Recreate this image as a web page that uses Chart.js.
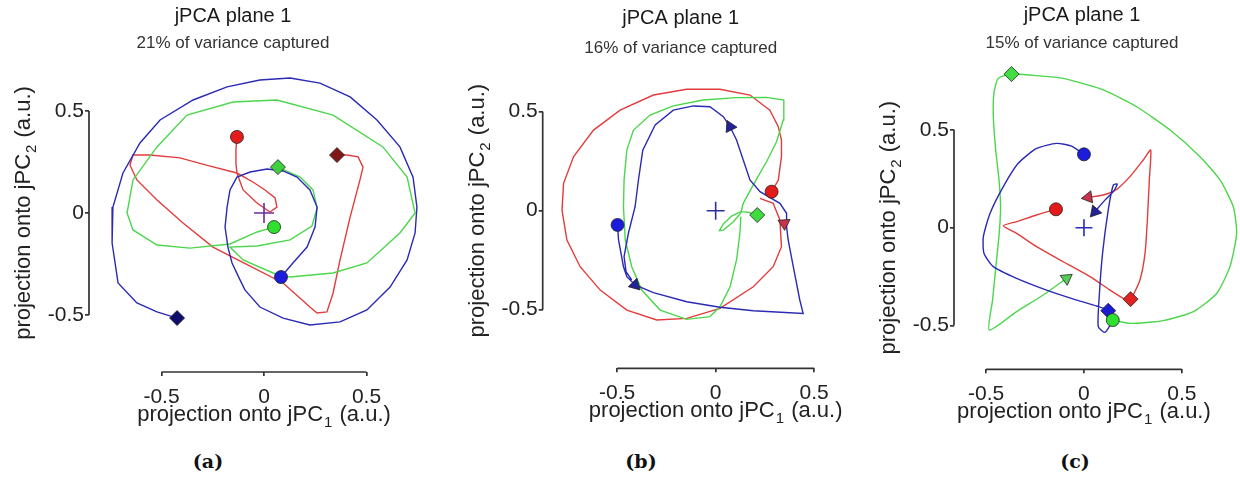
<!DOCTYPE html>
<html>
<head>
<meta charset="utf-8">
<script src="https://cdn.jsdelivr.net/npm/chart.js@4.4.1/dist/chart.umd.min.js"></script>
<style>
  html, body { margin:0; padding:0; background:#fff; overflow:hidden; }
  body { width:1240px; height:481px; position:relative; }
  canvas { position:absolute; top:0; }
  .cap { position:absolute; top:450px; line-height:24px; font:bold 19px "DejaVu Serif", serif; color:#111; transform:translateX(-50%); }
</style>
</head>
<body>
<canvas id="pa" width="430" height="440" style="left:0"></canvas>
<canvas id="pb" width="440" height="440" style="left:440px"></canvas>
<canvas id="pc" width="380" height="440" style="left:860px"></canvas>
<div class="cap" style="left:208px">(a)</div>
<div class="cap" style="left:641px">(b)</div>
<div class="cap" style="left:1075px">(c)</div>
<script>
// ===== DONNÉES =====
const tickVals = [-0.5, 0, 0.5];
const variance = ['21%', '16%', '15%'];
const origin = [0, 0];

// panneau (a) : rouge / vert / bleu, points [jPC1, jPC2]
const aRed = [[-0.132,0.373],[-0.137,0.309],[-0.137,0.245],[-0.132,0.196],[-0.102,0.113],[-0.034,0.049],[0.029,0.005],[0.063,0.029],[0.054,0.074],[0.005,0.113],[-0.054,0.152],[-0.132,0.196],[-0.263,0.230],[-0.410,0.270],[-0.556,0.284],[-0.639,0.284],[-0.654,0.235],[-0.620,0.162],[-0.522,0.064],[-0.395,-0.049],[-0.249,-0.167],[-0.068,-0.260],[0.093,-0.343],[0.224,-0.461],[0.259,-0.490],[0.307,-0.485],[0.337,-0.392],[0.371,-0.230],[0.420,-0.020],[0.468,0.162],[0.483,0.225],[0.459,0.275],[0.405,0.284],[0.356,0.284]];
const aGreen = [[0.049,-0.069],[-0.034,-0.093],[-0.166,-0.152],[-0.361,-0.172],[-0.522,-0.157],[-0.639,-0.083],[-0.668,0],[-0.639,0.162],[-0.522,0.324],[-0.376,0.480],[-0.151,0.544],[0.063,0.554],[0.337,0.480],[0.580,0.324],[0.698,0.176],[0.737,0],[0.663,-0.098],[0.502,-0.245],[0.337,-0.294],[0.127,-0.314],[0.044,-0.294],[-0.102,-0.230],[-0.166,-0.167],[-0.034,-0.162],[0.127,-0.132],[0.234,-0.064],[0.259,0.025],[0.239,0.113],[0.176,0.176],[0.068,0.225]];
const aBlue = [[0.083,-0.314],[0.141,-0.245],[0.210,-0.167],[0.249,-0.069],[0.259,0.029],[0.224,0.113],[0.161,0.176],[0.093,0.206],[0.015,0.216],[-0.068,0.201],[-0.132,0.176],[-0.166,0.113],[-0.180,0.029],[-0.190,-0.069],[-0.176,-0.167],[-0.156,-0.245],[-0.117,-0.328],[-0.093,-0.377],[-0.020,-0.461],[0.093,-0.515],[0.224,-0.549],[0.371,-0.534],[0.502,-0.475],[0.615,-0.363],[0.698,-0.230],[0.737,-0.098],[0.746,0.029],[0.727,0.176],[0.663,0.324],[0.551,0.456],[0.420,0.569],[0.273,0.637],[0.127,0.662],[-0.020,0.652],[-0.180,0.618],[-0.346,0.554],[-0.507,0.456],[-0.605,0.343],[-0.688,0.196],[-0.737,0.029],[-0.741,-0.147],[-0.712,-0.343],[-0.620,-0.441],[-0.522,-0.485],[-0.424,-0.515]];
const aCircles = [[-0.132,0.373],[0.049,-0.069],[0.083,-0.314]];
const aDiamonds = [[0.356,0.284],[0.068,0.225],[-0.424,-0.515]];

// panneau (b)
const bRed = [[0.225,0.062],[0.292,0.037],[0.326,-0.047],[0.334,-0.182],[0.292,-0.283],[0.191,-0.384],[0.022,-0.493],[-0.147,-0.544],[-0.299,-0.552],[-0.451,-0.502],[-0.586,-0.401],[-0.688,-0.283],[-0.755,-0.148],[-0.780,0.003],[-0.772,0.138],[-0.721,0.273],[-0.620,0.407],[-0.485,0.508],[-0.316,0.584],[-0.147,0.613],[0.022,0.613],[0.174,0.584],[0.275,0.508],[0.318,0.424],[0.334,0.357],[0.334,0.273],[0.318,0.155],[0.284,0.096]];
const bGreen = [[0.211,-0.022],[0.166,-0.008],[0.127,-0.005],[0.081,-0.027],[0.039,-0.067],[0.019,-0.101],[0.039,-0.098],[0.090,-0.056],[0.127,-0.013],[0.140,0.037],[0.191,0.130],[0.258,0.247],[0.309,0.348],[0.343,0.458],[0.346,0.559],[0.258,0.572],[0.106,0.571],[-0.063,0.559],[-0.215,0.529],[-0.333,0.483],[-0.417,0.407],[-0.451,0.306],[-0.465,0.155],[-0.468,0.020],[-0.459,-0.148],[-0.426,-0.283],[-0.375,-0.401],[-0.282,-0.502],[-0.147,-0.549],[-0.029,-0.535],[0.022,-0.485],[0.073,-0.384],[0.106,-0.249],[0.123,-0.114],[0.128,-0.030]];
const bBlue = [[-0.498,-0.072],[-0.493,-0.148],[-0.468,-0.283],[-0.451,-0.333],[-0.409,-0.375],[-0.316,-0.414],[-0.147,-0.460],[0.022,-0.488],[0.191,-0.505],[0.444,-0.519],[0.427,-0.451],[0.394,-0.283],[0.368,-0.148],[0.360,-0.081],[0.360,-0.013],[0.326,0.037],[0.225,0.096],[0.174,0.155],[0.140,0.256],[0.106,0.357],[0.073,0.424],[0.039,0.475],[-0.029,0.525],[-0.113,0.529],[-0.215,0.508],[-0.307,0.433],[-0.370,0.306],[-0.392,0.155],[-0.409,0.020],[-0.443,-0.114],[-0.465,-0.232],[-0.455,-0.308],[-0.426,-0.350]];
const bCircles = [[0.284,0.096], null, [-0.498,-0.072]];
const bDiamonds = [null, [0.211,-0.022], null];
const bArrowsRed = [[0.348,-0.064]];
const bArrowsBlue = [[0.073,0.424],[-0.409,-0.375]];

// panneau (c)
const cRed = [[-0.143,0.094],[-0.242,0.065],[-0.344,0.031],[-0.412,0.010],[-0.344,-0.029],[-0.242,-0.097],[-0.106,-0.174],[0.031,-0.250],[0.133,-0.319],[0.201,-0.361],[0.238,-0.365],[0.286,-0.267],[0.312,-0.131],[0.324,0.039],[0.334,0.244],[0.341,0.397],[0.303,0.346],[0.235,0.261],[0.167,0.196],[0.099,0.167],[0.022,0.155]];
const cGreen = [[0.147,-0.472],[0.235,-0.489],[0.405,-0.475],[0.559,-0.429],[0.678,-0.336],[0.746,-0.199],[0.780,-0.029],[0.763,0.107],[0.695,0.244],[0.593,0.363],[0.440,0.499],[0.269,0.618],[0.099,0.704],[-0.106,0.763],[-0.276,0.780],[-0.370,0.785],[-0.438,0.763],[-0.460,0.687],[-0.463,0.567],[-0.451,0.397],[-0.434,0.244],[-0.426,0.107],[-0.433,-0.029],[-0.450,-0.199],[-0.467,-0.370],[-0.484,-0.523],[-0.344,-0.429],[-0.208,-0.344],[-0.089,-0.259]];
const cBlue = [[0,0.375],[-0.063,0.417],[-0.140,0.431],[-0.242,0.405],[-0.336,0.329],[-0.412,0.210],[-0.480,0.073],[-0.514,-0.046],[-0.511,-0.131],[-0.463,-0.199],[-0.344,-0.259],[-0.191,-0.319],[-0.037,-0.370],[0.065,-0.400],[0.124,-0.424],[0.141,-0.480],[0.107,-0.535],[0.073,-0.506],[0.078,-0.353],[0.095,-0.131],[0.124,0.090],[0.150,0.218],[0.170,0.223],[0.150,0.184],[0.107,0.141],[0.056,0.082]];
const cCircles = [[-0.143,0.094],[0.147,-0.472],[0,0.375]];
const cDiamonds = [[0.238,-0.365],[-0.370,0.785],[0.124,-0.424]];
const cArrowsRed = [[0.022,0.155]];
const cArrowsGreen = [[-0.089,-0.259]];
const cArrowsBlue = [[0.056,0.082]];

// ===== STYLE =====
const lineCol = ['#e23c3c', '#4cd64c', '#2a2ab4'];
const circleCol = ['#e31b1b', '#2fe02f', '#1c1cdc'];
const arrowCol = ['#c8324a', '#55cc55', '#22229a'];
const FONT = '"Liberation Sans", Arial, sans-serif';

const toPts = arr => arr.map(p => ({x:p[0], y:p[1]}));

// direction (degrés, sens horaire depuis le haut) du segment le plus proche
function headingAt(path, p) {
  let best = 0, bd = Infinity;
  for (let i = 0; i < path.length-1; i++) {
    const [x1,y1] = path[i], [x2,y2] = path[i+1];
    const dx = x2-x1, dy = y2-y1, L = dx*dx+dy*dy || 1;
    let t = ((p[0]-x1)*dx + (p[1]-y1)*dy)/L; t = Math.max(0, Math.min(1, t));
    const d = Math.hypot(x1+t*dx-p[0], y1+t*dy-p[1]);
    if (d < bd) { bd = d; best = i; }
  }
  const [x1,y1] = path[best], [x2,y2] = path[best+1];
  return Math.atan2(x2-x1, y2-y1)*180/Math.PI;
}

function drawAxisLabel(ctx, cx, by, sub) {
  const main = 'projection onto jPC', tail = ' (a.u.)';
  ctx.font = '22px ' + FONT;
  const w1 = ctx.measureText(main).width, w3 = ctx.measureText(tail).width;
  ctx.font = '15px ' + FONT;
  const w2 = ctx.measureText(sub).width + 2;
  let x0 = cx - (w1+w2+w3)/2;
  ctx.fillStyle = '#222'; ctx.textBaseline = 'alphabetic'; ctx.textAlign = 'left';
  ctx.font = '22px ' + FONT; ctx.fillText(main, x0, by);
  ctx.font = '15px ' + FONT; ctx.fillText(sub, x0 + w1 + 1, by + 6);
  ctx.font = '22px ' + FONT; ctx.fillText(tail, x0 + w1 + w2, by);
}

// axes décalés façon MATLAB : trait de -0.5 à 0.5 seulement
const decor = {
  id: 'decor',
  afterDraw(chart) {
    const {ctx, chartArea, scales: {x, y}} = chart;
    ctx.save();
    ctx.strokeStyle = '#333'; ctx.lineWidth = 1.7;
    ctx.beginPath();
    ctx.moveTo(x.getPixelForValue(tickVals[0]), chartArea.bottom);
    ctx.lineTo(x.getPixelForValue(tickVals[2]), chartArea.bottom);
    ctx.moveTo(chartArea.left, y.getPixelForValue(tickVals[0]));
    ctx.lineTo(chartArea.left, y.getPixelForValue(tickVals[2]));
    ctx.stroke();
    drawAxisLabel(ctx, x.getPixelForValue(0), chartArea.bottom + 48.5, '1');
    ctx.translate(chartArea.left - 59, y.getPixelForValue(0));
    ctx.rotate(-Math.PI/2);
    drawAxisLabel(ctx, 0, 0, '2');
    ctx.restore();
  }
};

function makePanel(id, p) {
  const paths = [p.red, p.green, p.blue];
  const ds = [];
  // croix au centre
  ds.push({ data:[{x:origin[0], y:origin[1]}], pointStyle:'cross', pointRadius:p.crossSize, borderColor:p.crossCol, borderWidth:1.6, showLine:false, order:0 });
  // cercles, losanges, flèches
  paths.forEach((path, k) => {
    if (p.circles[k]) ds.push({ data:toPts([p.circles[k]]), pointStyle:'circle', pointRadius:6.5, backgroundColor:circleCol[k], borderColor:'#222', borderWidth:0.8, showLine:false, order:0 });
    if (p.diamonds[k]) ds.push({ data:toPts([p.diamonds[k]]), pointStyle:'rectRot', pointRadius:7.5, backgroundColor:p.diamondCol[k], borderColor:'#222', borderWidth:0.8, showLine:false, order:0 });
    const arr = p.arrows[k] || [];
    if (arr.length) ds.push({ data:toPts(arr), pointStyle:'triangle', pointRadius:7,
      pointRotation: arr.map(a => headingAt(path, a)),
      backgroundColor:arrowCol[k], borderColor:'#222', borderWidth:0.8, showLine:false, order:0 });
  });
  paths.forEach((path, k) => {
    ds.push({ data:toPts(path), showLine:true, borderColor:lineCol[k], borderWidth:1.4, pointRadius:0, tension:p.tension, order:3-k });
  });
  ds.forEach(d => d.clip = false);

  return new Chart(document.getElementById(id), {
    type: 'scatter',
    data: { datasets: ds },
    plugins: [decor],
    options: {
      responsive:false, animation:false, events:[],
      layout: { padding: { left:0, top:0, bottom:0, right:p.padRight } },
      plugins: {
        legend: { display:false }, tooltip: { enabled:false },
        title: { display:true, text:'jPCA plane 1', fullSize:false, color:'#1a1a1a',
                 font:{ family:FONT, size:20, weight:'normal' }, padding:{ top:p.tPad, bottom:0 } },
        subtitle: { display:true, text:p.variance + ' of variance captured', fullSize:false, color:'#333',
                 font:{ family:FONT, size:17, weight:'normal' }, padding:{ top:p.sPad[0], bottom:p.sPad[1] } }
      },
      scales: {
        x: { type:'linear', min:p.x[0], max:p.x[1],
             afterBuildTicks: s => { s.ticks = tickVals.map(v => ({value:v})); },
             afterFit: s => { s.height = p.xAxisH; },
             grid: { drawOnChartArea:false, tickLength:4, color:'#333', lineWidth:1.7 },
             border: { display:false },
             ticks: { autoSkip:false, maxRotation:0, padding:8.5, color:'#222', font:{ family:FONT, size:21 }, callback: v => String(v) } },
        y: { type:'linear', min:p.y[0], max:p.y[1],
             afterBuildTicks: s => { s.ticks = tickVals.map(v => ({value:v})); },
             afterFit: s => { s.width = p.yAxisW; },
             grid: { drawOnChartArea:false, tickLength:4, color:'#333', lineWidth:1.7 },
             border: { display:false },
             ticks: { autoSkip:false, padding:1, color:'#222', font:{ family:FONT, size:21 }, callback: v => String(v) } }
      }
    }
  });
}

makePanel('pa', {
  red:aRed, green:aGreen, blue:aBlue, circles:aCircles, diamonds:aDiamonds, arrows:[[],[],[]],
  diamondCol:['#801818','#3fcf3f','#0d0d6e'], crossCol:'#6a2e9a', crossSize:10, tension:0,
  variance:variance[0], x:[-0.8537,0.5512], y:[-0.7794,0.75], yAxisW:89, xAxisH:68, padRight:53,
  tPad:4, sPad:[4.8,6.8]
});
makePanel('pb', {
  red:bRed, green:bGreen, blue:bBlue, circles:bCircles, diamonds:bDiamonds, arrows:[bArrowsRed,[],bArrowsBlue],
  diamondCol:['#e02222','#3fdc3f','#1c1cd0'], crossCol:'#2e2e9e', crossSize:9, tension:0,
  variance:variance[1], x:[-0.878,0.523], y:[-0.796,0.761], yAxisW:102.7, xAxisH:71.7, padRight:61.3,
  tPad:6, sPad:[7.8,1.8]
});
makePanel('pc', {
  red:cRed, green:cGreen, blue:cBlue, circles:cCircles, diamonds:cDiamonds, arrows:[cArrowsRed,cArrowsGreen,cArrowsBlue],
  diamondCol:['#e02222','#44dd44','#1c1cd0'], crossCol:'#2a2ab8', crossSize:8.5, tension:0.2,
  variance:variance[2], x:[-0.664,0.644], y:[-0.7236,0.857], yAxisW:94, xAxisH:70.7, padRight:30,
  tPad:3, sPad:[5.8,6.8]
});
</script>
</body>
</html>
